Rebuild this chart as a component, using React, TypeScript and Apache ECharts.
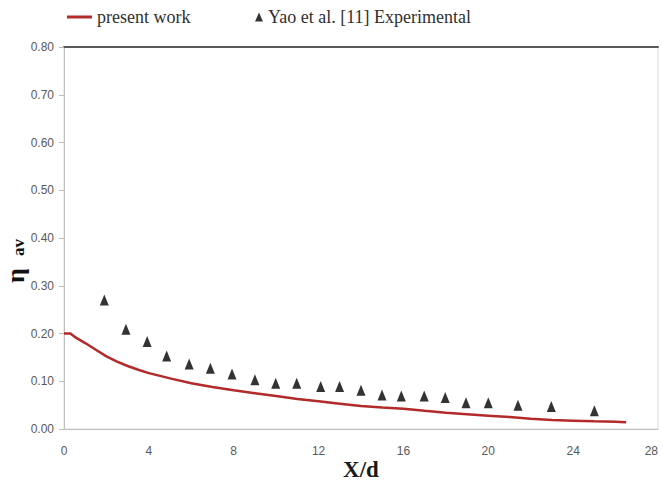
import React, { useEffect, useRef } from "react";
import * as echarts from "echarts";

const lineName = "present work";
const expName = "Yao et al. [11] Experimental";

const presentX = [0, 0.3, 0.5, 1, 1.5, 2, 2.5, 3, 3.5, 4, 5, 6, 7, 8, 9, 10, 11, 12, 13, 14, 15, 16, 17, 18, 19, 20, 21, 22, 23, 24, 25, 26, 26.5];
const presentY = [0.2, 0.2, 0.193, 0.18, 0.166, 0.152, 0.141, 0.132, 0.124, 0.117, 0.106, 0.096, 0.088, 0.081, 0.075, 0.069, 0.063, 0.058, 0.053, 0.048, 0.045, 0.0425, 0.038, 0.034, 0.031, 0.028, 0.025, 0.0215, 0.019, 0.0175, 0.016, 0.015, 0.014];

const expX = [1.9, 2.92, 3.92, 4.84, 5.9, 6.9, 7.92, 9.0, 9.98, 10.97, 12.1, 12.99, 14.0, 14.99, 15.9, 16.98, 17.97, 18.95, 20.0, 21.4, 22.97, 25.0];
const expY = [0.27, 0.209, 0.183, 0.153, 0.136, 0.127, 0.115, 0.103, 0.096, 0.096, 0.089, 0.089, 0.081, 0.071, 0.069, 0.069, 0.066, 0.055, 0.055, 0.05, 0.047, 0.038];

const xTicks = { min: 0, max: 28, interval: 4 };
const yTicks = { min: 0, max: 0.8, interval: 0.1 };

const labelFont = "'Liberation Sans Narrow', 'Liberation Sans', Arial, sans-serif";
const serif = "'Liberation Serif', 'Times New Roman', serif";

export default function App() {
  const ref = useRef<HTMLDivElement>(null);
  useEffect(() => {
    if (!ref.current) return;
    const chart = echarts.init(ref.current, undefined, { renderer: "svg" });
    chart.setOption({
      animation: false,
      backgroundColor: "#ffffff",
      legend: [
        {
          data: [{ name: lineName, icon: "rect" }],
          left: 67,
          top: 7,
          padding: 0,
          itemWidth: 25,
          itemHeight: 3,
          textStyle: { fontFamily: serif, fontSize: 18, color: "#303030", lineHeight: 20 },
        },
        {
          data: [{ name: expName, icon: "triangle" }],
          left: 255,
          top: 7,
          padding: 0,
          itemWidth: 8,
          itemHeight: 9,
          textStyle: { fontFamily: serif, fontSize: 18, color: "#303030", lineHeight: 20 },
        },
      ],
      grid: {
        left: 64,
        right: 5,
        top: 47,
        bottom: 56,
        outerBoundsMode: "none",
        containLabel: false,
        show: true,
        borderColor: "#d9d9d9",
        borderWidth: 1,
      },
      xAxis: [
        {
          type: "value",
          min: xTicks.min,
          max: xTicks.max,
          interval: xTicks.interval,
          name: "X/d",
          nameLocation: "middle",
          nameGap: 28,
          nameMoveOverlap: false,
          nameTextStyle: { fontFamily: serif, fontSize: 23, lineHeight: 24, fontWeight: "bold", color: "#1a1a1a" },
          axisLine: { show: true, lineStyle: { color: "#bfbfbf", width: 1 } },
          axisTick: { show: false },
          splitLine: { show: false },
          axisLabel: { margin: 16, fontFamily: labelFont, fontSize: 12, color: "#595959", alignMaxLabel: "right" },
        },
        {
          type: "value",
          position: "top",
          min: xTicks.min,
          max: xTicks.max,
          interval: xTicks.interval,
          axisLine: { show: true, onZero: false, lineStyle: { color: "#5a5a5a", width: 2 } },
          axisTick: { show: false },
          axisLabel: { show: false },
          splitLine: { show: false },
        },
      ],
      yAxis: {
        type: "value",
        min: yTicks.min,
        max: yTicks.max,
        interval: yTicks.interval,
        name: "{eta|η}{sub|av}",
        nameLocation: "middle",
        nameGap: 37,
        nameMoveOverlap: false,
        nameTextStyle: {
          padding: [0, 46, 0, 0],
          lineHeight: 24,
          rich: {
            eta: { fontFamily: serif, fontSize: 26, lineHeight: 24, fontWeight: "bold", color: "#111111" },
            sub: { fontFamily: serif, fontSize: 17, lineHeight: 18, fontWeight: "bold", color: "#111111", padding: [6, 0, 0, 12] },
          },
        },
        axisLine: { show: true, lineStyle: { color: "#bfbfbf", width: 1 } },
        axisTick: { show: true, length: 5, lineStyle: { color: "#bfbfbf" } },
        splitLine: { show: false },
        axisLabel: {
          margin: 10,
          fontFamily: labelFont,
          fontSize: 12,
          color: "#595959",
          formatter: (v: number) => v.toFixed(2),
        },
      },
      series: [
        {
          name: lineName,
          type: "line",
          data: presentX.map((x, i) => [x, presentY[i]]),
          showSymbol: false,
          symbol: "none",
          lineStyle: { color: "#b22a2a", width: 2.5 },
          itemStyle: { color: "#b22a2a" },
        },
        {
          name: expName,
          type: "scatter",
          data: expX.map((x, i) => [x, expY[i]]),
          symbol: "triangle",
          symbolSize: [9, 11],
          itemStyle: { color: "#000000" },
        },
      ],
    });
    return () => chart.dispose();
  }, []);
  return <div ref={ref} style={{ position: "fixed", left: 0, top: 0, width: 663, height: 485 }} />;
}
